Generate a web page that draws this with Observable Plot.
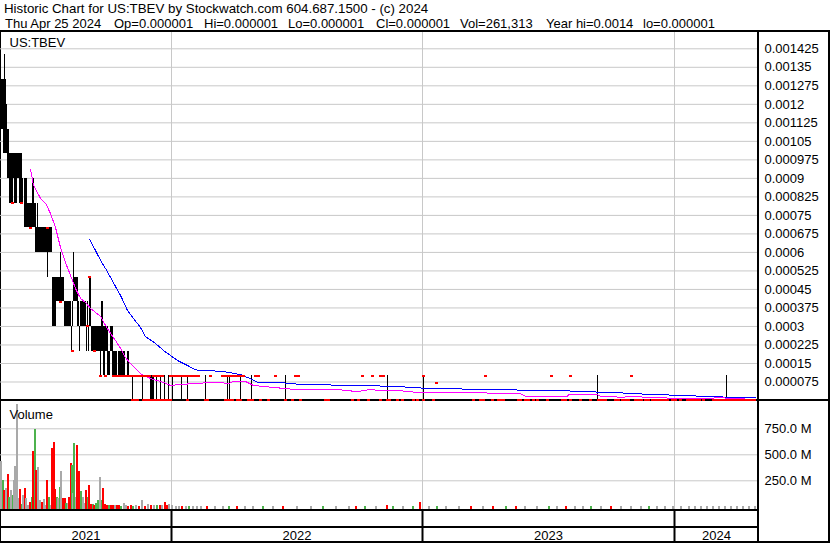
<!DOCTYPE html>
<html><head><meta charset="utf-8">
<script src="https://cdn.jsdelivr.net/npm/d3@7"></script>
<script src="https://cdn.jsdelivr.net/npm/@observablehq/plot@0.6"></script>
<style>
body{margin:0;background:#fff;font-family:"Liberation Sans",Arial,sans-serif;}
#wrap{position:relative;width:830px;height:543px;overflow:hidden;background:#fff;}
.t{position:absolute;font-size:13px;white-space:pre;color:#000;line-height:15px;}
.ln{position:absolute;background:#000;z-index:0;}
.ln.top{z-index:5;}
.pl{position:absolute;left:0;z-index:2;}
.pl svg{display:block;}
</style></head><body><div id="wrap"></div>
<script>
// ---------------- DATA ----------------
const headerLine1 = "Historic Chart for US:TBEV by Stockwatch.com 604.687.1500 - (c) 2024";
const headerLine2 = ["Thu Apr 25 2024","Op=0.000001","Hi=0.000001","Lo=0.000001","Cl=0.000001","Vol=261,313","Year hi=0.0014","lo=0.000001"];
const symbolLabel = "US:TBEV";
const volumeLabel = "Volume";

const priceTicks = [0.000075,0.00015,0.000225,0.0003,0.000375,0.00045,0.000525,0.0006,0.000675,0.00075,0.000825,0.0009,0.000975,0.00105,0.001125,0.0012,0.001275,0.00135,0.001425];
const priceTickLabels = ["0.000075","0.00015","0.000225","0.0003","0.000375","0.00045","0.000525","0.0006","0.000675","0.00075","0.000825","0.0009","0.000975","0.00105","0.001125","0.0012","0.001275","0.00135","0.001425"];
const volTicks = [250e6, 500e6, 750e6];
const volTickLabels = ["250.0 M","500.0 M","750.0 M"];

// trading-day index of the first session of each year, and year labels
const yearStarts = [0, 171, 422, 674, 758];
const yearLabels = ["2021","2022","2023","2024"];

// daily high / low (in units of 0.0001) for the first sessions (day 0..128)
const earlyHi = [14,13,13,13,14,13,12,11,11,10, 10,10,10,10,10,10,10,10,10,10, 10,10,9,null,9,9,9,8,8,8,
  8,8,9,9,8,8,7,8,7,7, 7,7,7,7,7,7,7,7,7,7, 7,7,5,5,5,5,5,5,5,5, 6,5,5,5,4,4,4,4,4,4,
  4,3,4,6,5,5,5,5,4,3, 4,4,4,4,4,4,3,4,3,5, 5,3,3,3,3,3,3,3,3,3, 3,4,4,3,3,3,3,3,2,2,
  3,3,3,2,2,2,2,null,2,2, 2,2,2,2,2,null,null,2,2];
const earlyLo = [11,11,11,10,10,10,10,9,9,8, 8,8,8,9,8,8,8,9,9,8, 8,8,8,null,7,7,7,7,7,7,
  7,7,7,7,7,6,6,6,6,6, 6,6,6,6,6,6,6,5,6,6, 6,6,3,3,3,3,4,4,4,4, 4,4,4,4,3,3,3,3,3,3,
  3,2,3,4,4,4,4,3,3,2, 3,3,3,3,3,3,2,3,2,3, 3,2,2,2,2,2,2,2,2,2, 1,2,2,1,1,2,2,1,1,1,
  2,2,1,1,1,1,1,null,1,1, 1,1,1,1,1,null,null,1,1];
// early closing marks (day, price in 0.0001)
const earlyCloseDays = [12,21,30,47,60,72,87,89,94,100,105,113];
const earlyCloseVals = [8,8,7,7,4,2,3,5,2,1,1,1];

// later sessions: ranges 0.000001 - 0.0001
const flatHigh = 0.0001, flatLow = 0.000001;
const rangeDays = [132,142,150,151,152,153,156,160,164,168,172,181,187,205,227,229,240,251,285,387,423,597,726];
// closes at 0.0001
const closeHighDays = [114,115,116,118,120,121,122,123,125,126,128,130,131,134,135,137,138,140,142,143,145,146,148,149,153,155,157,158,161,162,
  170,171,173,174,175,177,178,179,180,182,183,185,186,188,189,190,192,193,194,196,197,198,210,222,223,224,225,227,230,231,232,234,235,237,238,240,241,243,
  255,257,258,275,295,297,298,362,372,380,383,423,485,551,570,631];
// closes at 0.000001
const closeLowDays = [132,133,134,135,136,137,143,145,147,150,151,152,153,155,157,159,161,163,165,167,170,187,205,207,225,227,228,230,232,237,240,
  248,250,252,260,268,285,292,300,325,328,352,358,368,380,387,389,397,402,413,417,423,433,473,480,483,492,498,500,503,518,520,525,528,533,537,547,
  562,565,570,580,590,598,600,603,605,615,618,622,625,628,635,638,641,645,648,652,655,658,661,664,667,672,675,680,687,690,693,696,699,703,
  713,715,717,719,721,724,727,730,733,736,739,742,745,748,751,754];
const oddCloseDays = [436];
const oddCloseVals = [0.00007];

// moving averages
const maShortDays = [30,33,40,45,50,55,60,65,70,75,80,85,90,100,105,110,115,120,125,130,140,150,163,170,180,207,222,228,233,245,253,288,300,340,357,367,397,420,480,520,525,567,568,597,600,623,628,647,672,713,717,727,755];
const maShortVals = [0.000936,0.000872,0.000819,0.000799,0.000758,0.000701,0.000620,0.000559,0.000507,0.000454,0.000414,0.000397,0.000373,0.000341,0.000304,0.000272,0.000243,0.000211,0.000174,0.000150,
  0.000109,0.000089,0.000073,0.000061,0.000065,0.000072,0.000072,0.000068,0.000077,0.000077,0.000061,0.000047,0.000043,0.000043,0.000036,0.000043,0.000041,0.000031,0.000031,0.000027,
  0.000017,0.000017,0.000023,0.000023,0.000017,0.000013,0.000017,0.000013,0.0000093,0.0000093,0.000013,0.0000093,0.000004];
const maLongDays = [89,95,100,105,110,115,120,127,133,140,145,155,163,170,177,187,195,203,217,227,240,250,257,283,288,313,357,397,417,455,510,575,598,625,637,683,717,745,755];
const maLongVals = [0.000653,0.000608,0.000568,0.000535,0.000499,0.000462,0.000426,0.000365,0.000332,0.000296,0.000259,0.000231,0.000203,0.000182,0.000162,0.000142,0.000124,0.000122,0.000119,0.000115,
  0.000105,0.000088,0.000074,0.000072,0.000068,0.000064,0.000061,0.000057,0.000051,0.000047,0.000043,0.000038,0.000034,0.000030,0.000027,0.000020,0.000015,0.000011,0.000011];

// volume (millions) with direction: u = up, d = down, n = unchanged
const volDays = [0,2,3,5,7,8,10,12,13,14,16,18,19,21,22,24,25,27,29,31,32,34,35,37,39,41,43,45,46,48,50,51,53,54,56,57,59,60,62,64,65,67,68,70,71,72,73,75,76,78,80,82,84,85,87,88,90,92,93,95,97,99,101,102,104,
  106,108,110,112,114,116,118,120,123,125,127,130,132,135,138,141,144,147,150,153,156,159,161,164,166,168,171,
  175,178,181,185,188,192,196,200,206,214,222,228,236,244,252,262,272,282,296,310,322,335,348,355,364,375,386,392,402,412,419,428,436,445,458,470,482,492,505,515,524,536,548,556,565,574,582,590,600,610,620,630,640,648,656,664,672,680,688,694,700,706,712,718,724,730,736,742,748,754];
const volMillions = [435,253,157,176,310,90,157,108,253,385,985,80,166,22,108,176,80,12,41,90,532,743,349,378,60,41,70,8,253,88,8,561,618,166,90,80,186,340,80,80,30,30,90,420,397,127,609,90,590,340,147,90,30,157,90,205,20,20,12,30,60,282,60,176,20,
  15,12,10,8,8,12,12,5,30,8,5,8,5,8,5,60,5,20,8,10,8,15,8,41,8,20,12,
  2,3,4,5,3,4,3,2,3,2,3,2,3,2,3,2,4,3,2,3,3,4,3,4,3,4,9,4,3,5,40,3,3,2,3,2,3,3,3,4,3,2,3,3,2,3,4,3,4,3,5,4,5,3,4,5,3,4,6,5,6,4,5,6,5,4,6,5,7,4];
const volDir = ["n","u","d","n","d","u","n","u","n","n","n","n","d","u","n","d","n","n","d","u","d","u","d","n","n","d","n","n","d","u","n","d","d","d","u","n","u","n","d","d","u","n","d","d","u","n","u","n","d","d","u","n","n","d","u","d","d","u","d","u","u","n","u","d","d",
  "d","u","d","d","n","d","d","u","n","n","d","d","u","n","d","n","d","n","d","n","u","d","n","d","d","n","n",
  "n","n","d","n","u","n","n","n","d","n","n","u","d","n","n","u","n","d","n","n","u","n","n","d","u","n","d","u","n","u","d","n","u","n","n","d","n","d","u","d","n","n","u","n","d","n","n","u","n","d","n","n","n","u","n","n","n","n","n","n","n","n","n","n","n","n","n","n","n","n"];

// ---------------- BUILD ----------------
const wrap = document.getElementById("wrap");
function div(cls, css, text){ const d=document.createElement("div"); d.className=cls; d.style.cssText=css; if(text!=null) d.textContent=text; wrap.appendChild(d); return d; }

// header text
const headerX = [5,114,204,288,376,460,546,643];
div("t","left:4px;top:1px;font-size:13.3px;",headerLine1);
headerLine2.forEach((s,i)=>div("t",`left:${headerX[i]}px;top:16px;`,s));

// frame lines
div("ln top","left:0;top:30px;width:830px;height:2px;");
div("ln","left:0;top:31px;width:1px;height:511px;");
div("ln top","left:828px;top:31px;width:2px;height:512px;");
div("ln top","left:757px;top:31px;width:2px;height:512px;");
div("ln","left:0;top:399px;width:830px;height:2px;");
div("ln top","left:759px;top:399px;width:71px;height:2px;");
div("ln top","left:0;top:509px;width:758px;height:2px;");
div("ln top","left:0;top:526px;width:758px;height:2px;");
div("ln top","left:0;top:541px;width:830px;height:2px;");

const GRID = "#c8c8c8", RED = "#ff0000", GREEN = "#4db24d", GRAY = "#a9a9a9";
const dirColor = {u: GREEN, d: RED, n: GRAY};
const baseStyle = {fontFamily: "'Liberation Sans', Arial, sans-serif", fontSize: "13px", color: "#000", background: "none", overflow: "visible"};

const XDOMAIN = [0, 758];
// price panel: 370px tall; 0 at 369px, 0.001425 at 17.3px
const PRICE_TOP = 0.001425 * 369 / (369 - 17.3);

const bars = [];
earlyHi.forEach((h, i) => { if (h != null) bars.push({day: i, hi: h * 1e-4, lo: earlyLo[i] * 1e-4}); });
rangeDays.forEach(d => bars.push({day: d, hi: flatHigh, lo: flatLow}));

const closes = [];
earlyCloseDays.forEach((d, i) => closes.push({day: d, v: earlyCloseVals[i] * 1e-4}));
closeHighDays.forEach(d => closes.push({day: d, v: flatHigh}));
closeLowDays.forEach(d => closes.push({day: d, v: flatLow}));
oddCloseDays.forEach((d, i) => closes.push({day: d, v: oddCloseVals[i]}));

const maShort = maShortDays.map((d, i) => ({day: d, v: maShortVals[i]}));
const maLong = maLongDays.map((d, i) => ({day: d, v: maLongVals[i]}));

const priceLabelOf = new Map(priceTicks.map((t, i) => [t, priceTickLabels[i]]));
const volLabelOf = new Map(volTicks.map((t, i) => [t, volTickLabels[i]]));
const yearBounds = yearStarts.slice(1, -1);
const yearMids = yearLabels.map((y, i) => (yearStarts[i] + yearStarts[i + 1]) / 2);
const yearLabelOf = new Map(yearMids.map((m, i) => [m, yearLabels[i]]));

const price = Plot.plot({
  width: 830, height: 370,
  marginLeft: 0, marginRight: 72, marginTop: 0, marginBottom: 1,
  x: {type: "linear", domain: XDOMAIN, axis: null, label: null},
  y: {type: "linear", domain: [0, PRICE_TOP], axis: null, label: null},
  style: baseStyle,
  marks: [
    Plot.ruleY(priceTicks, {stroke: GRID}),
    Plot.ruleX(yearBounds, {stroke: GRID}),
    Plot.ruleX(bars, {x: "day", y1: "lo", y2: "hi", stroke: "#000", shapeRendering: "crispEdges"}),
    Plot.line(maLong, {x: "day", y: "v", stroke: "#0000ff", strokeWidth: 1, shapeRendering: "crispEdges"}),
    Plot.line(maShort, {x: "day", y: "v", stroke: "#ff00ff", strokeWidth: 1, shapeRendering: "crispEdges"}),
    Plot.dot(closes, {x: "day", y: "v", symbol: "square", r: 1.13, fill: RED, stroke: null, shapeRendering: "crispEdges"}),
    Plot.axisY(priceTicks, {anchor: "right", label: null, tickSize: 0, tickPadding: 6, tickFormat: d => priceLabelOf.get(d), fontSize: 13}),
    Plot.text([symbolLabel], {frameAnchor: "top-left", dx: 9, dy: 6, lineAnchor: "top", textAnchor: "start", fontSize: 13, fill: "#000"})
  ]
});

// volume panel: 141px tall incl. 33px year band; bars drawn up from the panel floor
const VOL_FLOOR = -26e6, VOL_TOP = 1012.5e6;
const vols = volDays.map((d, i) => ({day: d, m: volMillions[i] * 1e6, c: volDir[i]}));

const volume = Plot.plot({
  width: 830, height: 141,
  marginLeft: 0, marginRight: 72, marginTop: 0, marginBottom: 33,
  x: {type: "linear", domain: XDOMAIN, axis: null, label: null},
  y: {type: "linear", domain: [VOL_FLOOR, VOL_TOP], axis: null, label: null},
  style: baseStyle,
  marks: [
    Plot.ruleY(volTicks, {stroke: GRID}),
    Plot.ruleX(yearBounds, {stroke: GRID}),
    Plot.rect(vols, {x1: "day", x2: d => d.day + 2, y1: VOL_FLOOR, y2: "m", fill: d => dirColor[d.c], shapeRendering: "crispEdges"}),
    Plot.axisY(volTicks, {anchor: "right", label: null, tickSize: 0, tickPadding: 6, tickFormat: d => volLabelOf.get(d), fontSize: 13}),
    Plot.axisX(yearBounds, {anchor: "bottom", label: null, tickSize: 33, tickFormat: () => "", stroke: "#000", strokeWidth: 2}),
    Plot.axisX(yearMids, {anchor: "bottom", label: null, tickSize: 0, tickPadding: 21, tickFormat: d => yearLabelOf.get(d), fontSize: 13}),
    Plot.text([volumeLabel], {frameAnchor: "top-left", dx: 9, dy: 8, lineAnchor: "top", textAnchor: "start", fontSize: 13, fill: "#000"})
  ]
});

const p1 = document.createElement("div"); p1.className = "pl"; p1.style.top = "31px"; p1.appendChild(price); wrap.appendChild(p1);
const p2 = document.createElement("div"); p2.className = "pl"; p2.style.top = "401px"; p2.appendChild(volume); wrap.appendChild(p2);
</script>
</body></html>
